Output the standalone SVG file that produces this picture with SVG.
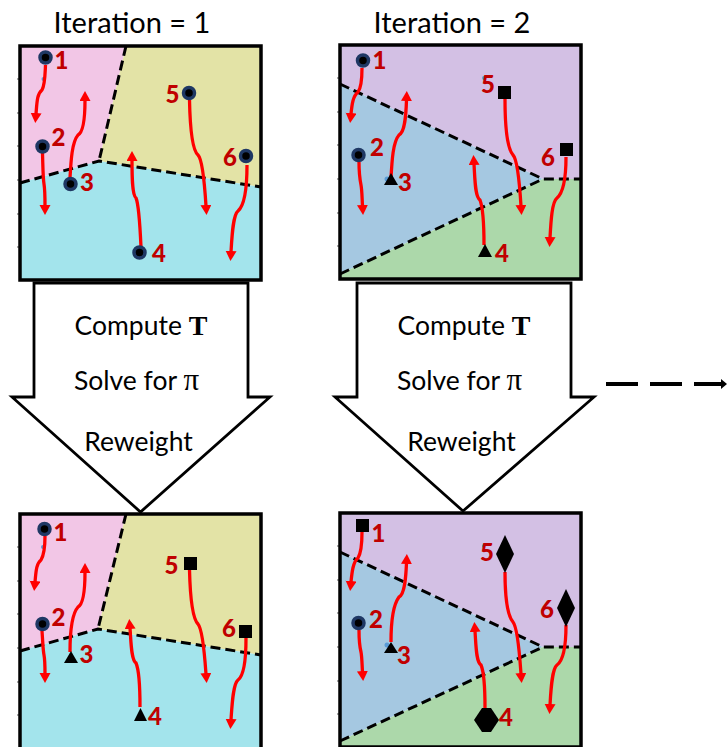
<svg xmlns="http://www.w3.org/2000/svg" width="727" height="747" viewBox="0 0 727 747">
<style>
.title{font:29px Lato,"Liberation Sans",sans-serif;fill:#000;text-anchor:middle}
.body{font:26.500px Lato,"Liberation Sans",sans-serif;fill:#000;text-anchor:middle}
.sym{font-family:"Liberation Serif",serif;font-size:31px}
.bold{font-weight:700;font-size:28px}
.lab{font:900 24px Lato,"Liberation Sans",sans-serif;fill:#c00000;text-anchor:middle}
.frame{fill:none;stroke:#000;stroke-width:3.500}
.bound{fill:none;stroke:#000;stroke-width:3;stroke-dasharray:10 5}
.traj{fill:none;stroke:#f00;stroke-width:3.300;marker-end:url(#red)}
.big{fill:#fff;stroke:#000;stroke-width:2.800;stroke-linejoin:miter}
.dot{fill:#000;stroke:#1f3864;stroke-width:3.500}
.tick{stroke:#555;stroke-width:1}
.spot{fill:#5b9bd5}
</style>
<defs>
<marker id="red" markerUnits="userSpaceOnUse" markerWidth="12" markerHeight="12" refX="1" refY="5.500" orient="auto"><path d="M0,0L10,5.500L0,11Z" fill="#f00"/></marker>
<marker id="blk" markerUnits="userSpaceOnUse" markerWidth="8" markerHeight="12" refX="0" refY="6" orient="auto"><path d="M0,1L6,6L0,11Z" fill="#000"/></marker>
<g id="ticks"><path class="tick" d="M17,33H20M17,67H20M17,100H20M17,134H20M17,168H20M17,201H20"/></g>
</defs>
<rect width="727" height="747" fill="#fff"/>
<text class="title" x="132" y="33">Iteration = 1</text>
<text class="title" x="452" y="33">Iteration = 2</text>

<g id="panel-a">
<path fill="#f2c6e6" d="M20,46H126L99,161L20,183Z"/>
<path fill="#e3e3a6" d="M126,46H261V187L99,161Z"/>
<path fill="#a3e4ec" d="M20,183L99,161L261,187V280H20Z"/>
<use href="#ticks" y="46"/>
<circle class="spot" cx="43.500" cy="79" r="2"/>
<path class="bound" d="M126,46L99,161M20,183L99,161L261,187"/>
<rect class="frame" x="20" y="46" width="241" height="234"/>
</g>
<g id="panel-b">
<path fill="#d3c0e4" d="M340,45H581V179H543L340,84Z"/>
<path fill="#a5c8e1" d="M340,84L543,179L340,274Z"/>
<path fill="#acd8aa" d="M340,274L543,179H581V279H340Z"/>
<use href="#ticks" x="320" y="45"/>
<circle class="spot" cx="484" cy="78" r="2"/><circle class="spot" cx="387" cy="179" r="2.500"/>
<path class="bound" d="M340,84L543,179H581M340,274L543,179"/>
<rect class="frame" x="340" y="45" width="241" height="234"/>
</g>
<g id="arrow-1">
<path class="big" d="M34,283V397H12L140.500,512L270,397H248V283Z"/>
<text class="body" x="141" y="335">Compute <tspan class="sym bold">T</tspan></text>
<text class="body" x="136.500" y="390">Solve for <tspan class="sym">π</tspan></text>
<text class="body" x="138.500" y="451">Reweight</text>
</g>
<g id="arrow-2">
<path class="big" d="M357,283V397H335L463,511L594,397H571V283Z"/>
<text class="body" x="464" y="335">Compute <tspan class="sym bold">T</tspan></text>
<text class="body" x="459.500" y="390">Solve for <tspan class="sym">π</tspan></text>
<text class="body" x="461.500" y="451">Reweight</text>
</g>
<g id="panel-c">
<path fill="#f2c6e6" d="M20,514H126L98,629L20,651Z"/>
<path fill="#e3e3a6" d="M126,514H261V655L98,629Z"/>
<path fill="#a3e4ec" d="M20,651L98,629L261,655V760H20Z"/>
<use href="#ticks" y="514"/>
<circle class="spot" cx="43" cy="547" r="2"/>
<path class="bound" d="M126,514L98,629M20,651L98,629L261,655"/>
<rect class="frame" x="20" y="514" width="241" height="245"/>
</g>
<g id="panel-d">
<path fill="#d3c0e4" d="M340,513H581V647H543L340,552Z"/>
<path fill="#a5c8e1" d="M340,552L543,647L340,741Z"/>
<path fill="#acd8aa" d="M340,741L543,647H581V747H340Z"/>
<use href="#ticks" x="320" y="513"/>
<circle class="spot" cx="484" cy="546" r="2"/><circle class="spot" cx="387" cy="645" r="2.500"/>
<path class="bound" d="M340,552L543,647H581M340,741L543,647"/>
<rect class="frame" x="340" y="513" width="241" height="234"/>
</g>

<g id="connectors">
<path class="traj" d="M45.500,65C45,75 45,85 42,90C37,94 37,102 36,114"/>
<path class="traj" d="M42.500,153C43,170 43,178 44,184C45,190 45,198 45,206"/>
<path class="traj" d="M70,178C71,160 72,142 78,135C84,132 85,115 85,100"/>
<path class="traj" d="M141,247C140,225 139,205 136,198C132,195 132,175 132,160"/>
<path class="traj" d="M189.500,100C190,125 192,150 198,155C203,160 205,190 206,206"/>
<path class="traj" d="M247,165C247,185 245,205 238,211C233,215 232,235 231,252"/>

<path class="traj" d="M362,68C362,78 361,88 358,92C353,96 352,104 351,114"/>
<path class="traj" d="M359,162C359,172 360,180 361,185C362,190 362,198 362.500,206"/>
<path class="traj" d="M391,178C392,160 393,142 399,135C405,132 406,115 406.500,100"/>
<path class="traj" d="M484,245C484,225 483,208 480,200C475,197 475,180 474,164"/>
<path class="traj" d="M505,99C505,125 507,148 513,155C518,160 520,190 521,206"/>
<path class="traj" d="M566,157C566,175 564,192 557,198C552,202 551,220 550,238"/>

<path class="traj" d="M45,536C45,545 44,555 41,560C36,564 36,572 35,582"/>
<path class="traj" d="M42,631C43,645 43,650 44,655C45,660 45,668 45,674"/>
<path class="traj" d="M70,652C70,635 71,615 78,607C84,604 85,585 85,572"/>
<path class="traj" d="M140,707C140,690 139,670 136,663C131,660 131,640 130,628"/>
<path class="traj" d="M189.500,570C190,590 192,618 198,624C203,630 205,660 206,674"/>
<path class="traj" d="M246,638C246,655 245,675 238,680C233,684 232,705 231,720"/>

<path class="traj" d="M362,532C362,542 361,553 358,558C353,562 352,572 351,582"/>
<path class="traj" d="M359,630C359,640 360,648 361,652C362,657 362,665 362.500,672"/>
<path class="traj" d="M391,642C391,625 393,605 399,597C405,594 406,575 406.500,563"/>
<path class="traj" d="M485,708C485,690 484,672 481,665C476,662 476,645 475,631"/>
<path class="traj" d="M505,572C505,595 507,615 513,622C518,628 520,660 521,674"/>
<path class="traj" d="M566,625C566,642 564,660 557,665C552,669 551,688 550,705"/>

<path d="M606,384H721" fill="none" stroke="#000" stroke-width="4" stroke-dasharray="32 12" marker-end="url(#blk)"/>
</g>

<g id="a1"><circle class="dot" cx="45.500" cy="57.500" r="5.500"/><text class="lab" x="61.500" y="69">1</text></g>
<g id="a2"><circle class="dot" cx="42.500" cy="146.500" r="5.500"/><text class="lab" x="58.500" y="145.500">2</text></g>
<g id="a3"><circle class="dot" cx="70.500" cy="184" r="5.500"/><text class="lab" x="87" y="191">3</text></g>
<g id="a4"><circle class="dot" cx="139.500" cy="252.500" r="5.500"/><text class="lab" x="159" y="262">4</text></g>
<g id="a5"><circle class="dot" cx="189" cy="93" r="5.500"/><text class="lab" x="172.500" y="103">5</text></g>
<g id="a6"><circle class="dot" cx="246" cy="156" r="5.500"/><text class="lab" x="230" y="166">6</text></g>

<g id="b1"><circle class="dot" cx="363" cy="60.500" r="5.500"/><text class="lab" x="379.500" y="69">1</text></g>
<g id="b2"><circle class="dot" cx="358.500" cy="155" r="5.500"/><text class="lab" x="377" y="155.500">2</text></g>
<g id="b3"><path d="M391,173L398,185H384Z"/><text class="lab" x="405" y="191">3</text></g>
<g id="b4"><path d="M485,244L492,257H478Z"/><text class="lab" x="502" y="262">4</text></g>
<g id="b5"><rect x="498" y="86" width="13" height="13"/><text class="lab" x="488" y="93">5</text></g>
<g id="b6"><rect x="560" y="143" width="13" height="13"/><text class="lab" x="548" y="166">6</text></g>

<g id="c1"><circle class="dot" cx="44.500" cy="529" r="5.500"/><text class="lab" x="60.500" y="541">1</text></g>
<g id="c2"><circle class="dot" cx="42.500" cy="624" r="5.500"/><text class="lab" x="58.500" y="626">2</text></g>
<g id="c3"><path d="M71,651L78,663H64Z"/><text class="lab" x="86.500" y="663">3</text></g>
<g id="c4"><path d="M140.500,708L147,721H134Z"/><text class="lab" x="155" y="725">4</text></g>
<g id="c5"><rect x="184" y="557" width="13" height="13"/><text class="lab" x="171.500" y="574">5</text></g>
<g id="c6"><rect x="239" y="625" width="13" height="13"/><text class="lab" x="229" y="637">6</text></g>

<g id="d1"><rect x="356" y="519" width="13" height="13"/><text class="lab" x="378.500" y="542">1</text></g>
<g id="d2"><circle class="dot" cx="358.500" cy="623" r="5.500"/><text class="lab" x="376" y="628">2</text></g>
<g id="d3"><path d="M391,642L398,653H384Z"/><text class="lab" x="404" y="664">3</text></g>
<g id="d4"><path d="M474,720L482,708H491L499,720L491,732H482Z"/><text class="lab" x="506" y="726">4</text></g>
<g id="d5"><path d="M505,535L514,554L505,573L496,554Z"/><text class="lab" x="487" y="561">5</text></g>
<g id="d6"><path d="M566,589L575,608L566,627L557,608Z"/><text class="lab" x="547" y="618">6</text></g>
</svg>
